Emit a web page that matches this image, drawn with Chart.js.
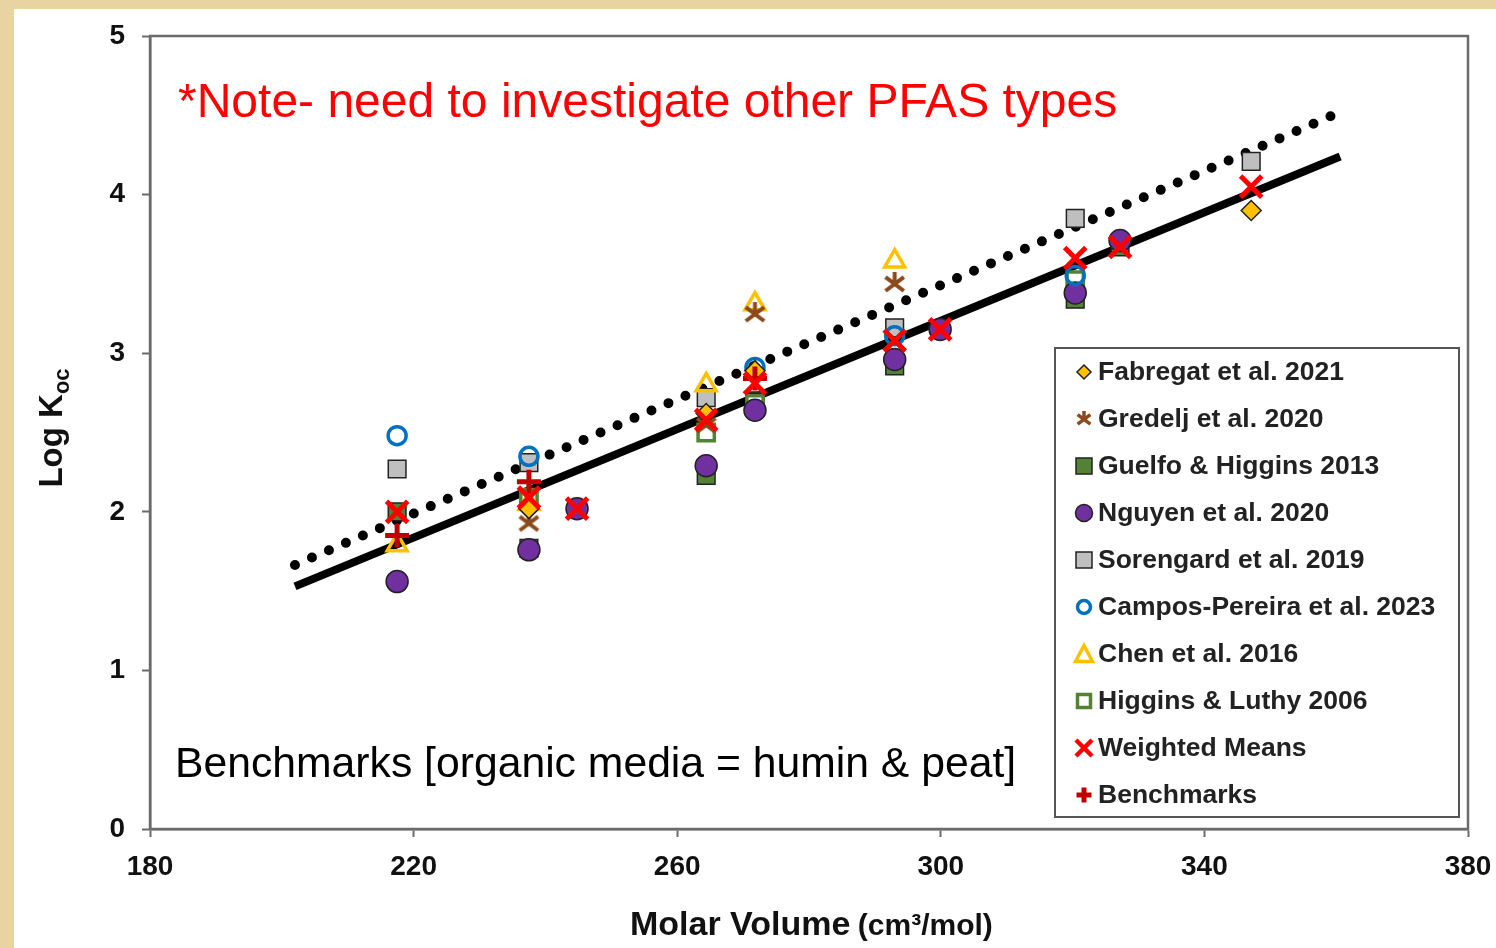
<!DOCTYPE html>
<html lang="en">
<head>
    <meta charset="UTF-8">
    <title>Log Koc vs Molar Volume</title>
    <script src="https://cdn.jsdelivr.net/npm/chart.js"></script>
    <style>
        html, body {
            margin: 0;
            padding: 0;
            width: 1496px;
            height: 948px;
            overflow: hidden;
            background: #e8d4a2; /* parchment edge */
        }
        #wrap {
            position: absolute;
            left: 14px;
            top: 9px;
            width: 1482px;
            height: 939px;
            background: #ffffff;
        }
        canvas { display: block; }
    </style>
</head>
<body>
    <div id="wrap"><canvas id="kocChart" width="1482" height="939"></canvas></div>

    <script>
        // values (molar volume, log Koc)
        const fabregatX = [237.5, 264.4, 271.8, 347.1];
        const fabregatY = [2.02, 2.62, 2.89, 3.90];

        const gredeljX = [237.5, 264.4, 271.8, 293.0];
        const gredeljY = [1.93, 2.55, 3.25, 3.44];

        const guelfoX = [217.5, 237.5, 264.4, 271.8, 293.0, 320.4, 327.2];
        const guelfoY = [2.00, 1.77, 2.23, 2.70, 2.92, 3.34, 3.67];

        const nguyenX = [217.5, 237.5, 244.8, 264.4, 271.8, 293.0, 299.9, 320.4, 327.2];
        const nguyenY = [1.56, 1.76, 2.02, 2.29, 2.64, 2.96, 3.15, 3.38, 3.71];

        const sorengardX = [217.5, 237.5, 264.4, 271.8, 293.0, 320.4, 347.1];
        const sorengardY = [2.27, 2.31, 2.72, 2.69, 3.16, 3.85, 4.21];

        const camposX = [217.5, 237.5, 271.8, 293.0, 320.4];
        const camposY = [2.48, 2.35, 2.91, 3.11, 3.49];

        const chenX = [217.5, 237.5, 264.4, 271.8, 293.0];
        const chenY = [1.79, 2.05, 2.80, 3.31, 3.58];

        const higginsX = [237.5, 264.4, 271.8, 320.4];
        const higginsY = [2.09, 2.50, 2.68, 3.46];

        const weightedX = [217.5, 237.5, 244.8, 264.4, 271.8, 293.0, 299.9, 320.4, 327.2, 347.1];
        const weightedY = [2.00, 2.09, 2.02, 2.58, 2.81, 3.08, 3.15, 3.60, 3.67, 4.05];

        const benchX = [217.5, 237.5, 271.8];
        const benchY = [1.85, 2.19, 2.84];

        // regression lines (end points)
        const fitX = [202, 360.6];
        const fitSolidY = [1.53, 4.24];
        const fitDottedY = [1.665, 4.52];

        const xTicks = [180, 220, 260, 300, 340, 380];
        const yTicks = [0, 1, 2, 3, 4, 5];

        const noteText = '*Note- need to investigate other PFAS types';
        const benchText = 'Benchmarks [organic media = humin & peat]';

        const pts = (xs, ys) => xs.map((x, i) => ({ x: x, y: ys[i] }));

        // Excel style asterisk marker (X with a vertical bar)
        function makeAsterisk(size, color, lw) {
            const c = document.createElement('canvas');
            c.width = c.height = size;
            const g = c.getContext('2d');
            const m = size / 2, r = size / 2 - 1;
            g.strokeStyle = color;
            g.lineWidth = lw;
            g.beginPath();
            g.moveTo(m - r * 0.8, m - r * 0.55); g.lineTo(m + r * 0.8, m + r * 0.65);
            g.moveTo(m + r * 0.8, m - r * 0.55); g.lineTo(m - r * 0.8, m + r * 0.65);
            g.moveTo(m, m - r); g.lineTo(m, m + r * 0.2);
            g.stroke();
            return c;
        }
        const starBig = makeAsterisk(25, '#8b4a1c', 4);
        const starSmall = makeAsterisk(18, '#8b4a1c', 3.5);

        const datasets = [
            { label: 'Fabregat et al. 2021', data: pts(fabregatX, fabregatY), pointStyle: 'rectRot', pointRadius: 10,
              backgroundColor: '#ffc000', borderColor: '#222', borderWidth: 1.5, order: 2 },
            { label: 'Gredelj et al. 2020', data: pts(gredeljX, gredeljY), pointStyle: starBig, pointRadius: 12,
              backgroundColor: '#8b4a1c', borderColor: '#8b4a1c', order: 3 },
            { label: 'Guelfo & Higgins 2013', data: pts(guelfoX, guelfoY), pointStyle: 'rect', pointRadius: 12.5,
              backgroundColor: '#548235', borderColor: '#222', borderWidth: 1.5, order: 9 },
            { label: 'Nguyen et al. 2020', data: pts(nguyenX, nguyenY), pointStyle: 'circle', pointRadius: 11,
              backgroundColor: '#7030a0', borderColor: '#222', borderWidth: 1.5, order: 6 },
            { label: 'Sorengard et al. 2019', data: pts(sorengardX, sorengardY), pointStyle: 'rect', pointRadius: 12.5,
              backgroundColor: '#bfbfbf', borderColor: '#222', borderWidth: 1.5, order: 8 },
            { label: 'Campos-Pereira et al. 2023', data: pts(camposX, camposY), pointStyle: 'circle', pointRadius: 9,
              backgroundColor: 'rgba(0,0,0,0)', borderColor: '#0070c0', borderWidth: 3.5, order: 5 },
            { label: 'Chen et al. 2016', data: pts(chenX, chenY), pointStyle: 'triangle', pointRadius: 11.5,
              backgroundColor: 'rgba(0,0,0,0)', borderColor: '#ffc000', borderWidth: 3.5, order: 4 },
            { label: 'Higgins & Luthy 2006', data: pts(higginsX, higginsY), pointStyle: 'rect', pointRadius: 11.5,
              backgroundColor: '#ffffff', borderColor: '#548235', borderWidth: 3.5, order: 7 },
            { label: 'Weighted Means', data: pts(weightedX, weightedY), pointStyle: 'crossRot', pointRadius: 15,
              backgroundColor: '#ff0000', borderColor: '#ff0000', borderWidth: 5, order: 0 },
            { label: 'Benchmarks', data: pts(benchX, benchY), pointStyle: 'cross', pointRadius: 12,
              backgroundColor: '#c00000', borderColor: '#c00000', borderWidth: 5, order: 1 },
            { label: 'fit', data: pts(fitX, fitSolidY), showLine: true, pointRadius: 0,
              borderColor: '#000', borderWidth: 8, order: 20 },
            { label: 'fit dotted', data: pts(fitX, fitDottedY), showLine: true, pointRadius: 0,
              borderColor: '#000', borderWidth: 10, borderDash: [0, 18.5], borderCapStyle: 'round', order: 21 }
        ];

        // small marker painter for the hand drawn legend box
        function legendMarker(g, ds, x, y) {
            g.save();
            g.fillStyle = ds.backgroundColor;
            g.strokeStyle = ds.borderColor;
            g.lineWidth = ds.borderWidth || 1;
            const st = ds.pointStyle;
            g.beginPath();
            if (st instanceof HTMLCanvasElement) {
                g.drawImage(starSmall, x - 9, y - 9);
            } else if (st === 'rectRot') {
                g.moveTo(x, y - 7); g.lineTo(x + 7, y); g.lineTo(x, y + 7); g.lineTo(x - 7, y); g.closePath();
                g.fill(); g.stroke();
            } else if (st === 'rect') {
                const h = ds.borderWidth > 2 ? 6.5 : 8;
                g.rect(x - h, y - h, 2 * h, 2 * h);
                g.fill(); g.stroke();
            } else if (st === 'circle') {
                const r = ds.borderWidth > 2 ? 6.5 : 8.5;
                g.arc(x, y, r, 0, Math.PI * 2);
                g.fill(); g.stroke();
            } else if (st === 'triangle') {
                g.moveTo(x, y - 8.5); g.lineTo(x + 8.5, y + 7.5); g.lineTo(x - 8.5, y + 7.5); g.closePath();
                g.stroke();
            } else if (st === 'crossRot') {
                g.lineWidth = 4.5;
                g.moveTo(x - 8, y - 8); g.lineTo(x + 8, y + 8);
                g.moveTo(x + 8, y - 8); g.lineTo(x - 8, y + 8);
                g.stroke();
            } else if (st === 'cross') {
                g.lineWidth = 5;
                g.moveTo(x - 7.5, y); g.lineTo(x + 7.5, y);
                g.moveTo(x, y - 7.5); g.lineTo(x, y + 7.5);
                g.stroke();
            }
            g.restore();
        }

        const FONT = '"Liberation Sans", Arial, sans-serif';

        const decorations = {
            id: 'decorations',
            afterDraw(chart) {
                const g = chart.ctx;
                const a = chart.chartArea;
                g.save();

                // plot frame (top + right side)
                g.strokeStyle = '#6b6b6b';
                g.lineWidth = 2.5;
                g.strokeRect(a.left, a.top, a.right - a.left, a.bottom - a.top);

                // notes inside the plot
                g.fillStyle = '#ff0000';
                g.font = '48px ' + FONT;
                g.textBaseline = 'alphabetic';
                g.textAlign = 'left';
                g.fillText(noteText, 178 - 14, 117 - 9);

                g.fillStyle = '#000';
                g.font = '42.7px ' + FONT;
                g.fillText(benchText, 175 - 14, 777 - 9);

                // axis titles
                g.fillStyle = '#111';
                const t1 = 'Molar Volume ';
                const t2 = '(cm\u00b3/mol)';
                g.font = 'bold 34px ' + FONT;
                const w1 = g.measureText(t1).width;
                const bx = 630 - 14;
                g.fillText(t1, bx, 935 - 9);
                g.font = 'bold 30px ' + FONT;
                g.fillText(t2, bx + w1 - 2, 935 - 9);

                g.translate(62 - 14, 428 - 9);
                g.rotate(-Math.PI / 2);
                g.font = 'bold 33px ' + FONT;
                const l1 = 'Log K';
                const lw1 = g.measureText(l1).width;
                g.font = 'bold 22px ' + FONT;
                const lw2 = g.measureText('oc').width;
                const sx = -(lw1 + lw2) / 2;
                g.font = 'bold 33px ' + FONT;
                g.fillText(l1, sx, 0);
                g.font = 'bold 22px ' + FONT;
                g.fillText('oc', sx + lw1, 7);
                g.restore();

                // legend box
                g.save();
                const bx0 = 1055 - 14, by0 = 348 - 9, bw = 404, bh = 469;
                g.fillStyle = '#fff';
                g.fillRect(bx0, by0, bw, bh);
                g.strokeStyle = '#555';
                g.lineWidth = 2;
                g.strokeRect(bx0, by0, bw, bh);
                g.font = 'bold 26.5px ' + FONT;
                g.textBaseline = 'middle';
                g.fillStyle = '#222';
                const items = chart.data.datasets.slice(0, 10);
                items.forEach((ds, i) => {
                    const yy = 372 - 9 + i * 47;
                    legendMarker(g, ds, 1084 - 14, yy);
                    g.fillText(ds.label, 1098 - 14, yy + 1);
                });
                g.restore();
            }
        };

        const tickFont = { family: FONT, size: 28, weight: 'bold' };

        new Chart(document.getElementById('kocChart'), {
            type: 'scatter',
            data: { datasets: datasets },
            options: {
                responsive: false,
                animation: false,
                layout: { padding: { top: 27, right: 28, left: 0, bottom: 0 } },
                plugins: {
                    legend: { display: false },
                    tooltip: { enabled: false }
                },
                scales: {
                    x: {
                        type: 'linear',
                        min: xTicks[0],
                        max: xTicks[xTicks.length - 1],
                        afterBuildTicks: s => { s.ticks = xTicks.map(v => ({ value: v })); },
                        afterFit: s => { s.height = 119; s.paddingLeft = 0; s.paddingRight = 0; },
                        grid: { drawOnChartArea: false, drawTicks: true, tickLength: 8, tickColor: '#6b6b6b', tickWidth: 2 },
                        border: { color: '#6b6b6b', width: 2.5 },
                        ticks: { color: '#111', font: tickFont, padding: 13, maxRotation: 0 }
                    },
                    y: {
                        type: 'linear',
                        min: yTicks[0],
                        max: yTicks[yTicks.length - 1],
                        afterBuildTicks: s => { s.ticks = yTicks.map(v => ({ value: v })); },
                        afterFit: s => { s.width = 136; s.paddingTop = 0; s.paddingBottom = 0; },
                        grid: { drawOnChartArea: false, drawTicks: true, tickLength: 8, tickColor: '#6b6b6b', tickWidth: 2 },
                        border: { color: '#6b6b6b', width: 2.5 },
                        ticks: { color: '#111', font: tickFont, padding: 17 }
                    }
                }
            },
            plugins: [decorations]
        });
    </script>
</body>
</html>
